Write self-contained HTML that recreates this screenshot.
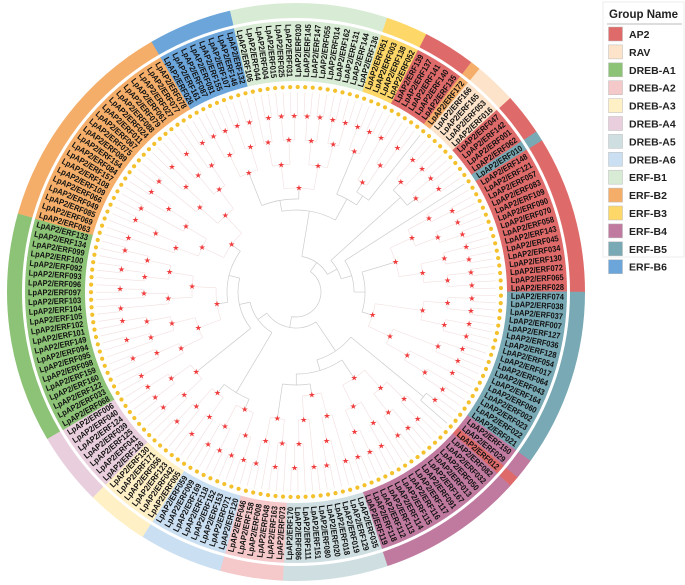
<!DOCTYPE html>
<html><head><meta charset="utf-8">
<style>
html,body{margin:0;padding:0;background:#fff;}
svg{display:block;font-family:"Liberation Sans",sans-serif;}
</style></head>
<body>
<svg id="chart" width="685" height="585" viewBox="0 0 685 585" xmlns="http://www.w3.org/2000/svg">
<g id="tree"></g>
<g id="labels"></g>
<g id="ring"></g>
<g id="legend"></g>
</svg>
<script>
const groupNames = ["AP2","RAV","DREB-A1","DREB-A2","DREB-A3","DREB-A4","DREB-A5","DREB-A6","ERF-B1","ERF-B2","ERF-B3","ERF-B4","ERF-B5","ERF-B6"];
const groupColors = ["#df6a6a","#fce3c9","#8dc377","#f5c8ca","#fff0c6","#e9cfdd","#cfdfe1","#cadff2","#d8ebd4","#f4ae69","#fdd869","#c07a9f","#78a9b4","#6ba5da"];
// leaf blocks in clockwise order starting at upper-left (group, leaf ids)
const blockGroups = ["ERF-B6","ERF-B1","ERF-B3","AP2","ERF-B2","RAV","AP2","ERF-B5","AP2","ERF-B5","ERF-B4","AP2","ERF-B4","DREB-A5","DREB-A2","DREB-A6","DREB-A3","DREB-A4","DREB-A1","ERF-B2"];
const blockLeaves = [
 ["026","161","087","081","155","107","146","132"],
 ["106","044","004","015","025","031","030","145","147","055","014","162","131","144","136"],
 ["051","003","138","052"],
 ["139","137","141","140","135"],
 ["172"],
 ["166","165","053","016"],
 ["047","142","001","062"],
 ["010"],
 ["148","121","057","083","109","090","070","058","143","045","034","130","072","065","028"],
 ["074","038","037","007","127","036","128","054","017","064","043","164","060","002","023","022","021"],
 ["150","029"],
 ["012"],
 ["082","032","050","013","167","091","117","116","115","114","113","112","118","119"],
 ["035","129","019","018","020","080","151","111","086","170"],
 ["073","163","048","008","158","046"],
 ["120","071","153","152","118","169","009","059"],
 ["005","042","123","056","171","130"],
 ["126","041","125","039","124","040","006"],
 ["068","033","122","160","159","098","095","094","149","101","102","105","104","103","097","096","093","092","100","099","134","133"],
 ["063","069","085","049","066","109","108","157","084","154","089","075","067","011","024","088","079","061","027","077","078"]
];
const startAngle = 331;

const NS="http://www.w3.org/2000/svg";
const CX=296, CY=292;
function mk(tag,attrs,parent){const e=document.createElementNS(NS,tag);for(const k in attrs)e.setAttribute(k,attrs[k]);parent.appendChild(e);return e;}
function pt(r,a){const t=a*Math.PI/180;return [CX+r*Math.sin(t),CY-r*Math.cos(t)];}
function wedge(r0,r1,a0,a1){const p0=pt(r1,a0),p1=pt(r1,a1),p2=pt(r0,a1),p3=pt(r0,a0);const lg=(a1-a0)>180?1:0;
 return `M${p0[0]},${p0[1]}A${r1},${r1} 0 ${lg} 1 ${p1[0]},${p1[1]}L${p2[0]},${p2[1]}A${r0},${r0} 0 ${lg} 0 ${p3[0]},${p3[1]}Z`;}
function colorOf(g){return groupColors[groupNames.indexOf(g)];}

const leaves=[];
blockLeaves.forEach((b,bi)=>b.forEach(id=>leaves.push({id:id,g:blockGroups[bi],b:bi})));
const N=leaves.length, step=360/N;
leaves.forEach((l,i)=>l.a=startAngle+i*step);

// labels
const gl=document.getElementById('labels');
leaves.forEach((l,i)=>{
 const w=mk('path',{d:wedge(211,271,l.a-step/2-0.05,l.a+step/2+0.05),fill:colorOf(l.g)},gl);
 
 
 let a=((l.a%360)+360)%360;
 const p=pt(215,l.a);
 const t=mk('text',{x:p[0],y:p[1],'font-size':'8.3','font-weight':'bold',fill:'#111','dominant-baseline':'central',textLength:'53',lengthAdjust:'spacingAndGlyphs'},gl);
 if(a<180){t.setAttribute('transform',`rotate(${a-90} ${p[0]} ${p[1]})`);t.setAttribute('text-anchor','start');}
 else{t.setAttribute('transform',`rotate(${a+90} ${p[0]} ${p[1]})`);t.setAttribute('text-anchor','end');}
 t.textContent='LpAP2/ERF'+l.id;
 
 
});

// outer ring
const gr=document.getElementById('ring');
let s=0;
blockLeaves.forEach((b,bi)=>{
 const a0=startAngle+(s-0.5)*step, a1=startAngle+(s+b.length-0.5)*step;
 const w=mk('path',{d:wedge(274,289,a0,a1+0.05),fill:colorOf(blockGroups[bi])},gr);
 
 
 s+=b.length;
});

// tree (built from leaf order)
const gt=document.getElementById('tree');
function build(idx){
 if(idx.length===1){return {a:leaves[idx[0]].a,r:200,leaf:true,kids:[]};}
 const m=Math.floor(idx.length/2);
 const L=build(idx.slice(0,m)),R=build(idx.slice(m));
 const r=Math.max(70,Math.min(L.r,R.r)-24);
 return {a:(L.a+R.a)/2,r:r,kids:[L,R]};
}
const blockTrees=[];s=0;
blockLeaves.forEach(b=>{const idx=[];for(let k=0;k<b.length;k++)idx.push(s+k);s+=b.length;blockTrees.push(build(idx));});
function joinAll(nodes){
 if(nodes.length===1)return nodes[0];
 const m=Math.floor(nodes.length/2);
 const L=joinAll(nodes.slice(0,m)),R=joinAll(nodes.slice(m));
 return {a:(L.a+R.a)/2,r:Math.max(12,Math.min(L.r,R.r)-11),kids:[L,R]};
}
const root=joinAll(blockTrees);
function draw(n,col){
 n.kids.forEach(k=>{
  const p0=pt(n.r,k.a),p1=pt(k.r,k.a);
  const ln=mk('line',{x1:p0[0],y1:p0[1],x2:p1[0],y2:p1[1],stroke:col,'stroke-width':0.6},gt);
  
  
  draw(k,col);
 });
 if(!n.leaf){
  const a0=n.kids[0].a,a1=n.kids[n.kids.length-1].a;
  const p0=pt(n.r,a0),p1=pt(n.r,a1);
  const arc=mk('path',{d:`M${p0[0]},${p0[1]}A${n.r},${n.r} 0 ${(a1-a0)>180?1:0} 1 ${p1[0]},${p1[1]}`,fill:'none',stroke:col,'stroke-width':0.6},gt);
  
  
  const p=pt(n.r,n.a);
  const st=mk('text',{x:p[0],y:p[1],'font-size':'8','fill':'#f03c3c','text-anchor':'middle','dominant-baseline':'central'},gt);
  st.textContent='★';
  
  
 }
}
function drawRoot(n){
 n.kids.forEach(k=>{const p0=pt(n.r,k.a),p1=pt(k.r,k.a);
  const ln=mk('line',{x1:p0[0],y1:p0[1],x2:p1[0],y2:p1[1],stroke:'#cccccc','stroke-width':0.7},gt);
  
  
  if(blockTrees.indexOf(k)<0)drawRoot(k);});
 const a0=n.kids[0].a,a1=n.kids[1].a;const p0=pt(n.r,a0),p1=pt(n.r,a1);
 const arc=mk('path',{d:`M${p0[0]},${p0[1]}A${n.r},${n.r} 0 ${(a1-a0)>180?1:0} 1 ${p1[0]},${p1[1]}`,fill:'none',stroke:'#cccccc','stroke-width':0.7},gt);
 
 
}
drawRoot(root);
blockTrees.forEach((t,i)=>{draw(t,'#f3dede');});

// tip dots
leaves.forEach(l=>{const p=pt(205,l.a);
 const d=mk('circle',{cx:p[0],cy:p[1],r:2.1,fill:'#f4c02c'},gt);
 
 
});

// legend
const lg=document.getElementById('legend');
const box=mk('rect',{x:603,y:2,width:81,height:255,fill:'none',stroke:'#eeeeee','stroke-width':1},lg);


const tt=mk('text',{x:609,y:18,'font-size':'11.5','font-weight':'bold',fill:'#222'},lg);
tt.textContent='Group Name';


const ul=mk('line',{x1:607,y1:24,x2:682,y2:24,stroke:'#bbb','stroke-width':1},lg);


groupNames.forEach((g,i)=>{
 const y=34+i*17.9;
 const r=mk('rect',{x:608.5,y:y-7,width:14,height:14,fill:groupColors[i],stroke:'#bbb','stroke-width':0.5},lg);
 
 
 const t=mk('text',{x:629,y:y+4,'font-size':'10.5','font-weight':'bold',fill:'#222'},lg);
 t.textContent=g;
 
 
});
</script>
</body></html>
